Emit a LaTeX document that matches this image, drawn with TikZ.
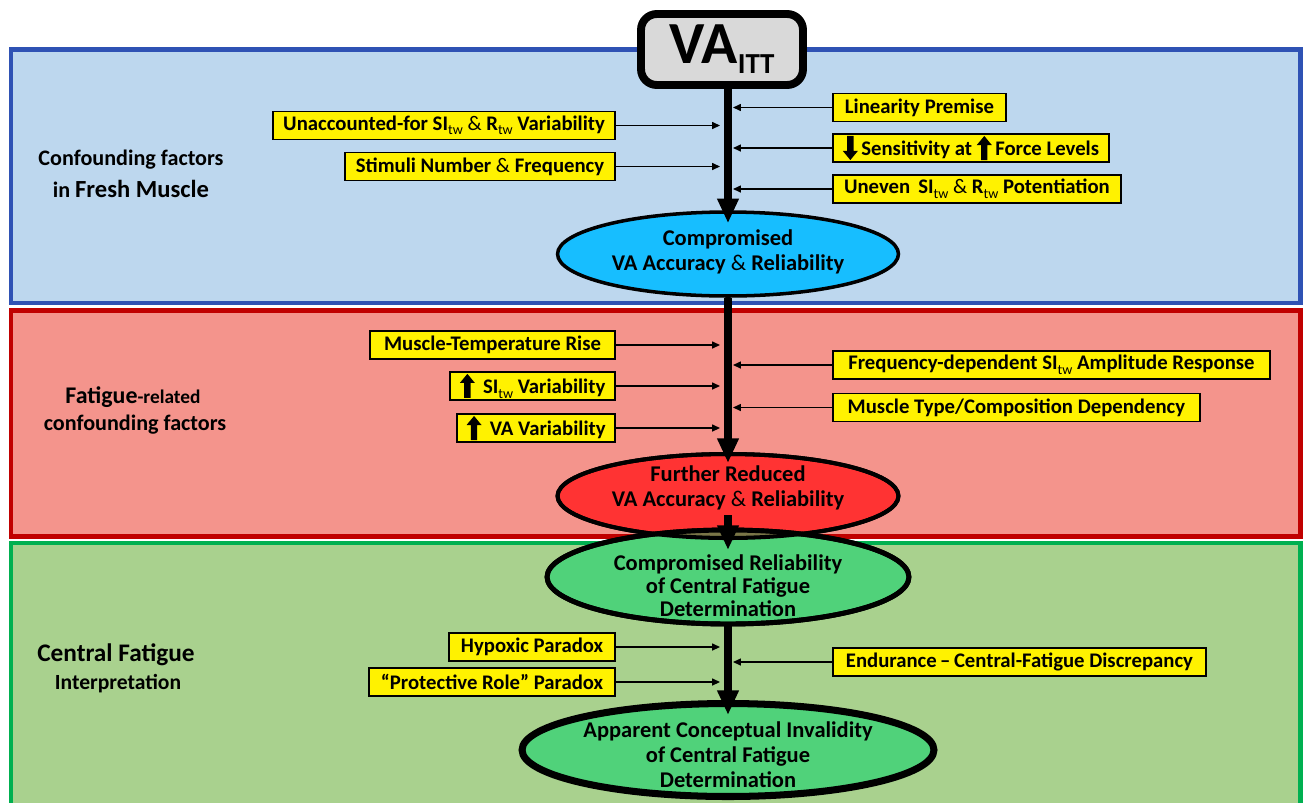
\documentclass[tikz,border=0pt]{standalone}
\usepackage{fontspec}
\setmainfont{Carlito}
\usetikzlibrary{arrows.meta,shapes.geometric,calc}
\definecolor{bluefill}{RGB}{189,215,238}
\definecolor{blueline}{RGB}{47,82,180}
\definecolor{redfill}{RGB}{244,148,140}
\definecolor{redline}{RGB}{192,0,0}
\definecolor{greenfill}{RGB}{169,209,142}
\definecolor{greenline}{RGB}{0,176,80}
\definecolor{ellA}{RGB}{23,190,255}
\definecolor{ellB}{RGB}{255,51,51}
\definecolor{ellC}{RGB}{80,210,122}
\definecolor{overlapc}{RGB}{122,118,72}
\definecolor{vagray}{RGB}{217,217,217}
\newcommand\tw{\raisebox{-0.45ex}{\fontsize{8}{9}\selectfont\mdseries tw}}
\newcommand\amp{{\mdseries\&}}
\newcommand\uparr{\tikz[baseline=0pt,x=1pt,y=1pt]\fill[black] (-1.8,-2.5)--(-1.8,6)--(-4.3,6)--(0,11.2)--(4.3,6)--(1.8,6)--(1.8,-2.5)--cycle;}
\newcommand\downarr{\tikz[baseline=0pt,x=1pt,y=1pt]\fill[black] (-1.8,11.2)--(-1.8,2.7)--(-4.3,2.7)--(0,-2.5)--(4.3,2.7)--(1.8,2.7)--(1.8,11.2)--cycle;}
\tikzset{
  panel/.style={line width=2.8pt},
  ybox/.style={draw=black, fill=yellow, line width=1.1pt, minimum height=0.56cm, inner sep=0pt, font=\fontsize{11.8}{13}\selectfont\bfseries},
  feed/.style={line width=0.7pt, -{Triangle[length=4.5pt,width=4pt]}},
  mainarr/.style={line width=4.5pt, -{Triangle[length=14pt,width=11.5pt]}},
  ell/.style={ellipse, draw=black, inner sep=0pt},
  etext/.style={align=center, font=\fontsize{12.8}{14.2}\selectfont\bfseries},
  labsmall/.style={font=\fontsize{12.6}{14}\selectfont\bfseries},
  labbig/.style={font=\fontsize{14.4}{16}\selectfont\bfseries},
}
\begin{document}
\begin{tikzpicture}[x=0.02cm,y=-0.02cm]
\useasboundingbox (0,0) rectangle (1304,802);
% panels
\draw[panel, draw=blueline, fill=bluefill] (11,49.5) rectangle (1300.5,303);
\draw[panel, draw=redline, fill=redfill] (11,310.5) rectangle (1300.5,536.5);
\draw[panel, draw=greenline, fill=greenfill] (11,543) rectangle (1300.5,815);
% side labels
\node[labsmall] (lab1a) at (131,160) {Confounding factors};
\node[labsmall] (lab1b) at (131,189) {in {\fontsize{14}{16}\selectfont Fresh Muscle}};
\node[labsmall] (lab2a) at (133,397) {{\fontsize{13.6}{16}\selectfont Fatigue}{\fontsize{11}{12}\selectfont -related}};
\node[labsmall] (lab2b) at (135,425) {confounding factors};
\node[labbig] (lab3a) at (116,655) {Central Fatigue};
\node[font=\fontsize{12.3}{14}\selectfont\bfseries] (lab3b) at (118,684) {Interpretation};
% VA box
\node[draw, line width=4.5pt, rounded corners=9pt, fill=vagray, minimum width=3.24cm, minimum height=1.42cm, inner sep=0pt] (va) at (722,49.5)
  {\fontsize{34}{34}\selectfont\bfseries VA\raisebox{-5.7pt}{\fontsize{16.5}{16}\selectfont ITT}};
% ellipses
\node[ell, fill=ellA, line width=2pt, minimum width=6.82cm, minimum height=1.68cm] (e1) at (728,254) {};
\node[ell, fill=ellB, line width=2.3pt, minimum width=6.82cm, minimum height=1.68cm] (e2) at (728,496) {};
\node[ell, fill=ellC, line width=2.8pt, minimum width=7.24cm, minimum height=1.88cm] (e3) at (728,577) {};
\begin{scope}
  \clip (e2.center) ellipse [x radius=3.41cm, y radius=0.84cm];
  \fill[overlapc] (e3.center) ellipse [x radius=3.62cm, y radius=0.94cm];
\end{scope}
\draw[line width=2.3pt] (e2.center) ellipse [x radius=3.41cm, y radius=0.84cm];
\draw[line width=2.8pt] (e3.center) ellipse [x radius=3.62cm, y radius=0.94cm];
\node[ell, fill=ellC, line width=4pt, minimum width=8.24cm, minimum height=1.86cm] (e4) at (728,750) {};
% ellipse texts
\node[etext] (t1) at (728,252) {Compromised\\VA Accuracy \amp{} Reliability};
\node[etext] (t2) at (728,488) {Further Reduced\\VA Accuracy \amp{} Reliability};
\node[etext, font=\fontsize{12.8}{13}\selectfont\bfseries] (t3) at (728,586) {Compromised Reliability\\of Central Fatigue\\Determination};
\node[etext] (t4) at (728,755) {Apparent Conceptual Invalidity\\of Central Fatigue\\Determination};
% main arrows
\coordinate (a0) at (va.south -| e1.center);
\coordinate (c2) at (728,515);
\coordinate (c3) at (728,550);
\draw[mainarr] (a0) -- ($(e1.north)+(0,13)$);
\draw[mainarr] (e1.south) -- ($(e2.north)+(0,11)$);
\draw[mainarr] (c2) -- (c3);
\draw[mainarr] (e3.south) -- ($(e4.north)+(0,15)$);
% spine coordinates
\coordinate (spineL) at (720,0);
\coordinate (spineR) at (733,0);
% yellow boxes - blue panel
\node[ybox, anchor=east, minimum width=6.84cm] (L1) at (616,125.5) {Unaccounted-for SI\tw{} \amp{} R\tw{} Variability};
\node[ybox, anchor=east, minimum width=5.40cm] (L2) at (616,166.5) {Stimuli Number \amp{} Frequency};
\node[ybox, anchor=west, minimum width=3.46cm] (R1) at (832,107.5) {Linearity Premise};
\node[ybox, anchor=west, minimum width=5.52cm] (R2) at (832,148) {\downarr\,Sensitivity at \uparr\,Force Levels};
\node[ybox, anchor=west, minimum width=5.76cm] (R3) at (832,189) {Uneven\, SI\tw{} \amp{} R\tw{} Potentiation};
% red panel
\node[ybox, anchor=east, minimum width=4.90cm] (L3) at (616,345) {Muscle-Temperature Rise};
\node[ybox, anchor=east, minimum width=3.30cm] (L4) at (616,386) {\uparr\, SI\tw{} Variability};
\node[ybox, anchor=east, minimum width=3.16cm] (L5) at (616,428) {\uparr\, VA Variability};
\node[ybox, anchor=west, minimum width=8.74cm] (R4) at (832,365) {Frequency-dependent SI\tw{} Amplitude Response};
\node[ybox, anchor=west, minimum width=7.34cm] (R5) at (832,407.5) {Muscle Type/Composition Dependency};
% green panel
\node[ybox, anchor=east, minimum width=3.32cm] (L6) at (616,647) {Hypoxic Paradox};
\node[ybox, anchor=east, minimum width=4.92cm] (L7) at (616,682) {“Protective Role” Paradox};
\node[ybox, anchor=west, minimum width=7.46cm] (R6) at (832,662) {Endurance\,–\,Central-Fatigue Discrepancy};
% feeders
\foreach \n in {L1,L2,L3,L4,L5,L6,L7} \draw[feed] (\n) -- (\n -| spineL);
\foreach \n in {R1,R2,R3,R4,R5,R6} \draw[feed] (\n) -- (\n -| spineR);
\end{tikzpicture}
\end{document}
